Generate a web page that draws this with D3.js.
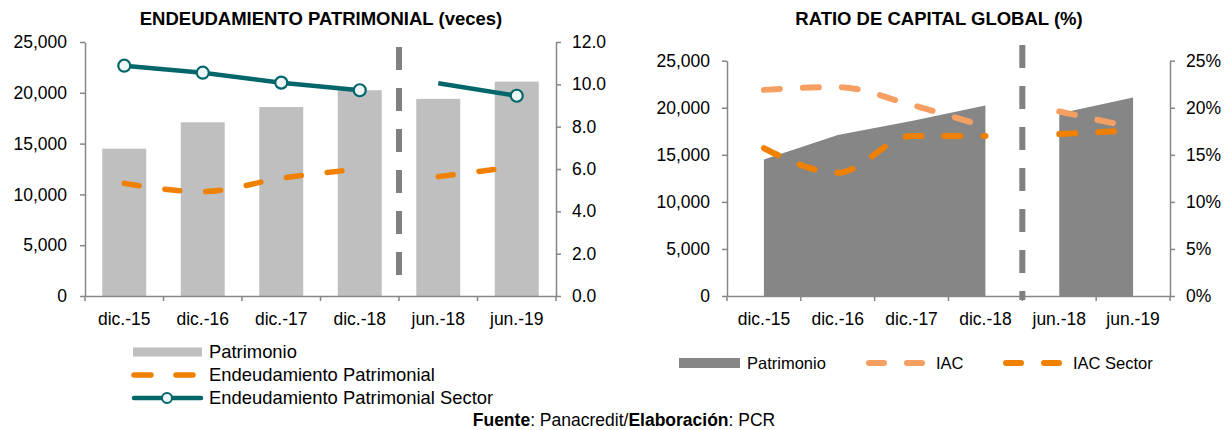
<!DOCTYPE html>
<html>
<head>
<meta charset="utf-8">
<script src="https://cdn.jsdelivr.net/npm/d3@7"></script>
<style>
  body { margin: 0; background: #fff; }
  svg { font-family: "Liberation Sans", Arial, sans-serif; }
</style>
</head>
<body>
<svg id="chart" width="1227" height="430"></svg>
<script>
// data
const categories = ["dic.-15", "dic.-16", "dic.-17", "dic.-18", "jun.-18", "jun.-19"]
const patrimonio = [14500, 17100, 18600, 20250, 19400, 21100]
const endeudamiento = [5.32, 4.93, 5.56, 6.0, 5.64, 6.11]
const endeudamientoSector = [10.88, 10.55, 10.08, 9.72, 10.05, 9.46]
const sectorMarker = [true, true, true, true, false, true]
const iac = [0.219, 0.222, 0.203, 0.180, 0.196, 0.179]
const iacSector = [0.157, 0.131, 0.170, 0.170, 0.172, 0.176]
const segment = [0, 0, 0, 0, 1, 1]   // break between dic.-18 and jun.-18
const leftTicks = [0, 5000, 10000, 15000, 20000, 25000]
const rightTicksVeces = [0, 2, 4, 6, 8, 10, 12]
const pctTicks = [0, 0.05, 0.1, 0.15, 0.2, 0.25]

const svg = d3.select("#chart")
const axisColor = "#868686"
const fmtMiles = d3.format(",")

function styleAxis(g) {
  g.select(".domain").attr("stroke", axisColor).attr("stroke-width", 1.5)
  g.selectAll(".tick line").attr("stroke", axisColor).attr("stroke-width", 1.5)
  g.selectAll("text").attr("fill", "#000").style("font-size", "17.5px")
}

function segments(vals) {
  let out = []
  vals.forEach((v, i) => {
    let s = segment[i]
    if (!out[s]) out[s] = []
    out[s].push({ cat: categories[i], v: v, i: i })
  })
  return out
}

function drawCategoryAxis(g, x, y0) {
  // labels at band centres, ticks at band edges
  g.append("g")
    .attr("transform", `translate(0,${y0})`)
    .call(d3.axisBottom(x).tickSize(0).tickPadding(17))
    .call(styleAxis)
  let step = x.step()
  let edges = d3.range(categories.length + 1).map(i => x.range()[0] + i * step)
  g.append("g").selectAll("line").data(edges).enter().append("line")
    .attr("x1", d => d).attr("x2", d => d)
    .attr("y1", y0).attr("y2", y0 + 5)
    .attr("stroke", axisColor).attr("stroke-width", 1.5)
}

function breakLine(g, x, yTop, yBot) {
  let bx = x("jun.-18") - (x.step() - x.bandwidth()) / 2
  g.append("line")
    .attr("x1", bx).attr("x2", bx)
    .attr("y1", yTop).attr("y2", yBot)
    .attr("stroke", "#808080").attr("stroke-width", 6)
    .attr("stroke-dasharray", "23,18")
}

// ---------- left chart ----------
{
  const L = { left: 85, right: 556, top: 42, bottom: 296 }
  const g = svg.append("g")
  const x = d3.scaleBand().domain(categories).range([L.left, L.right])
    .paddingInner(0.44).paddingOuter(0.22)
  const y = d3.scaleLinear().domain([0, 25000]).range([L.bottom, L.top])
  const y2 = d3.scaleLinear().domain([0, 12]).range([L.bottom, L.top])
  const cx = c => x(c) + x.bandwidth() / 2

  g.append("text").attr("x", 321).attr("y", 25).attr("text-anchor", "middle")
    .style("font-size", "18.5px").style("font-weight", "bold")
    .text("ENDEUDAMIENTO PATRIMONIAL (veces)")

  g.append("g").selectAll("rect").data(patrimonio).enter().append("rect")
    .attr("x", (d, i) => x(categories[i]))
    .attr("y", d => y(d))
    .attr("width", x.bandwidth())
    .attr("height", d => y(0) - y(d))
    .attr("fill", "#bfbfbf")

  g.append("g")
    .attr("transform", `translate(${L.left},0)`)
    .call(d3.axisLeft(y).tickValues(leftTicks).tickFormat(fmtMiles).tickSize(5).tickPadding(13).tickSizeOuter(0))
    .call(styleAxis)
  g.append("g")
    .attr("transform", `translate(${L.right},0)`)
    .call(d3.axisRight(y2).tickValues(rightTicksVeces).tickFormat(d3.format(".1f")).tickSize(5).tickPadding(11).tickSizeOuter(0))
    .call(styleAxis)
  drawCategoryAxis(g, x, L.bottom)

  breakLine(g, x, 47, 282)

  const line = d3.line().x(d => cx(d.cat)).y(d => y2(d.v)).curve(d3.curveMonotoneX)

  segments(endeudamiento).forEach(s => {
    g.append("path").attr("d", line(s)).attr("fill", "none")
      .attr("stroke", "#f08000").attr("stroke-width", 5.5)
      .attr("stroke-linecap", "round").attr("stroke-dasharray", "15,26")
  })
  segments(endeudamientoSector).forEach(s => {
    g.append("path").attr("d", d3.line().x(d => cx(d.cat)).y(d => y2(d.v))(s))
      .attr("fill", "none").attr("stroke", "#00666a").attr("stroke-width", 4.5)
  })
  g.append("g").selectAll("circle")
    .data(endeudamientoSector.map((v, i) => ({ v, i })).filter(d => sectorMarker[d.i]))
    .enter().append("circle")
    .attr("cx", d => cx(categories[d.i])).attr("cy", d => y2(d.v)).attr("r", 6)
    .attr("fill", "#eef5f5").attr("stroke", "#00666a").attr("stroke-width", 2.2)

  // legend
  const lg = g.append("g")
  const rows = [352, 375, 398]
  lg.append("rect").attr("x", 133).attr("y", rows[0] - 4.5).attr("width", 69).attr("height", 9).attr("fill", "#bfbfbf")
  lg.append("line").attr("x1", 134).attr("x2", 197).attr("y1", rows[1]).attr("y2", rows[1])
    .attr("stroke", "#f08000").attr("stroke-width", 5.5).attr("stroke-linecap", "round").attr("stroke-dasharray", "17,25")
  lg.append("line").attr("x1", 134).attr("x2", 201).attr("y1", rows[2]).attr("y2", rows[2])
    .attr("stroke", "#00666a").attr("stroke-width", 4.5).attr("stroke-linecap", "round")
  lg.append("circle").attr("cx", 167).attr("cy", rows[2]).attr("r", 5)
    .attr("fill", "#eef5f5").attr("stroke", "#00666a").attr("stroke-width", 2)
  const labels = ["Patrimonio", "Endeudamiento Patrimonial", "Endeudamiento Patrimonial Sector"]
  lg.selectAll("text.lab").data(labels).enter().append("text")
    .attr("x", 209).attr("y", (d, i) => rows[i]).attr("dy", "0.35em")
    .style("font-size", "18.4px").text(d => d)
}

// ---------- right chart ----------
{
  const R = { left: 727, right: 1170, top: 60.7, bottom: 296 }
  const g = svg.append("g")
  const x = d3.scaleBand().domain(categories).range([R.left, R.right])
    .paddingInner(0.44).paddingOuter(0.22)
  const y = d3.scaleLinear().domain([0, 25000]).range([R.bottom, R.top])
  const yp = d3.scaleLinear().domain([0, 0.25]).range([R.bottom, R.top])
  const cx = c => x(c) + x.bandwidth() / 2

  g.append("text").attr("x", 939).attr("y", 25).attr("text-anchor", "middle")
    .style("font-size", "18.5px").style("font-weight", "bold")
    .text("RATIO DE CAPITAL GLOBAL (%)")

  const area = d3.area().x(d => cx(d.cat)).y0(y(0)).y1(d => y(d.v))
  segments(patrimonio).forEach(s => {
    g.append("path").attr("d", area(s)).attr("fill", "#868686")
  })

  g.append("g")
    .attr("transform", `translate(${R.left},0)`)
    .call(d3.axisLeft(y).tickValues(leftTicks).tickFormat(fmtMiles).tickSize(5).tickPadding(12).tickSizeOuter(0))
    .call(styleAxis)
  g.append("g")
    .attr("transform", `translate(${R.right},0)`)
    .call(d3.axisRight(yp).tickValues(pctTicks).tickFormat(d3.format(".0%")).tickSize(5).tickPadding(11).tickSizeOuter(0))
    .call(styleAxis)
  drawCategoryAxis(g, x, R.bottom)

  breakLine(g, x, 45, 300)

  const line = d3.line().x(d => cx(d.cat)).y(d => yp(d.v)).curve(d3.curveMonotoneX)
  segments(iac).forEach(s => {
    g.append("path").attr("d", line(s)).attr("fill", "none")
      .attr("stroke", "#f5a062").attr("stroke-width", 6)
      .attr("stroke-linecap", "round").attr("stroke-dasharray", "16,23")
  })
  segments(iacSector).forEach(s => {
    g.append("path").attr("d", line(s)).attr("fill", "none")
      .attr("stroke", "#f08000").attr("stroke-width", 6)
      .attr("stroke-linecap", "round").attr("stroke-dasharray", "16,23")
  })

  // legend
  const ly = 363
  const lg = g.append("g")
  lg.append("rect").attr("x", 679).attr("y", ly - 5).attr("width", 61).attr("height", 10).attr("fill", "#868686")
  lg.append("line").attr("x1", 869).attr("x2", 925).attr("y1", ly).attr("y2", ly)
    .attr("stroke", "#f5a062").attr("stroke-width", 6).attr("stroke-linecap", "round").attr("stroke-dasharray", "15,23")
  lg.append("line").attr("x1", 1006).attr("x2", 1062).attr("y1", ly).attr("y2", ly)
    .attr("stroke", "#f08000").attr("stroke-width", 6).attr("stroke-linecap", "round").attr("stroke-dasharray", "15,23")
  const items = [["Patrimonio", 747], ["IAC", 936], ["IAC Sector", 1073]]
  lg.selectAll("text").data(items).enter().append("text")
    .attr("x", d => d[1]).attr("y", ly).attr("dy", "0.35em")
    .style("font-size", "16.5px").text(d => d[0])
}

// source note
const src = svg.append("text").attr("x", 624).attr("y", 426).attr("text-anchor", "middle")
  .style("font-size", "17.5px")
src.append("tspan").style("font-weight", "bold").text("Fuente")
src.append("tspan").text(": Panacredit/")
src.append("tspan").style("font-weight", "bold").text("Elaboración")
src.append("tspan").text(": PCR")
</script>
</body>
</html>
